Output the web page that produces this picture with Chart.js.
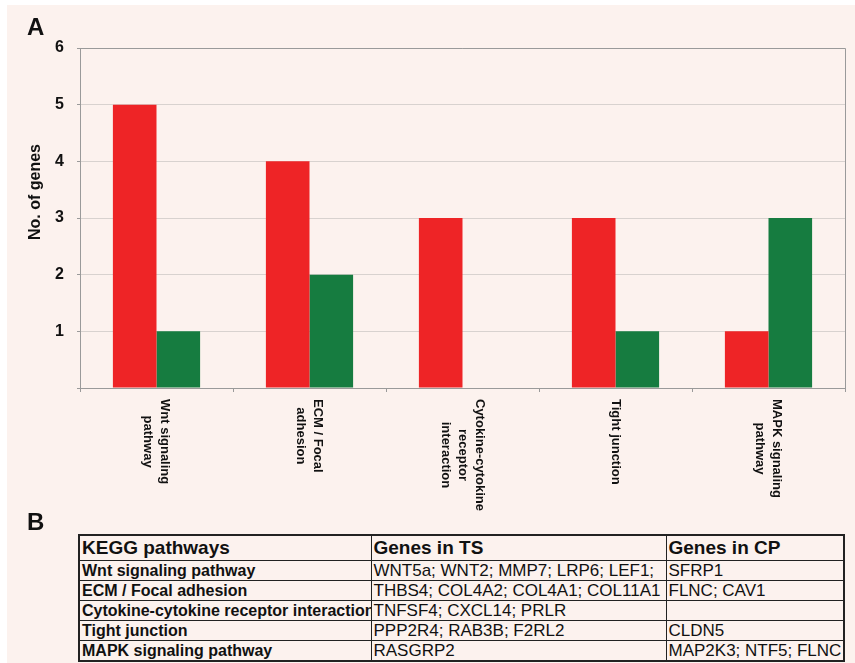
<!DOCTYPE html>
<html>
<head>
<meta charset="utf-8">
<script src="https://cdn.jsdelivr.net/npm/chart.js@4.4.0/dist/chart.umd.min.js"></script>
<style>
  html, body { margin: 0; padding: 0; background: #fff; }
  body { width: 855px; height: 663px; position: relative; overflow: hidden; font-family: "Liberation Sans", Arial, sans-serif; color: #111; }
  #panel { position: absolute; left: 7px; top: 5px; right: 0; bottom: 0; background: #fcf2ee; }
  #chart { position: absolute; left: 0; top: 0; }
  .tag { position: absolute; font-weight: bold; font-size: 24px; line-height: 24px; }
  table { position: absolute; left: 78px; top: 534px; width: 765px; border-collapse: collapse; table-layout: fixed; border: 2px solid #222; }
  td { border: 1px solid #222; padding: 0 2px; white-space: nowrap; overflow: hidden; height: 19px; line-height: 19px; font-size: 17px; }
  td.name { font-weight: bold; font-size: 16px; }
  tr.head td { font-weight: bold; font-size: 19px; height: 24px; line-height: 24px; }
</style>
</head>
<body>
<div id="panel"></div>
<canvas id="chart" width="855" height="530"></canvas>
<div class="tag" style="left:27px; top:15px;">A</div>
<div class="tag" style="left:27px; top:510px;">B</div>
<table id="genes">
  <colgroup><col style="width:292px"><col style="width:295px"><col style="width:178px"></colgroup>
  <tbody></tbody>
</table>
<script>
// Chart data
const pathways = ['Wnt signaling pathway', 'ECM / Focal adhesion', 'Cytokine-cytokine receptor interaction', 'Tight junction', 'MAPK signaling pathway'];
const pathwayLabelLines = [
    ['Wnt signaling', 'pathway'],
    ['ECM / Focal', 'adhesion'],
    ['Cytokine-cytokine', 'receptor', 'interaction'],
    ['Tight junction'],
    ['MAPK signaling', 'pathway']
];
const genesTS = [5, 4, 3, 3, 1];
const genesCP = [1, 2, 0, 1, 3];
const yTicks = [0, 1, 2, 3, 4, 5, 6];

// Table data
const tableHeader = ['KEGG pathways', 'Genes in TS', 'Genes in CP'];
const tsGeneLists = ['WNT5a; WNT2; MMP7; LRP6; LEF1;', 'THBS4; COL4A2; COL4A1; COL11A1', 'TNFSF4; CXCL14; PRLR', 'PPP2R4; RAB3B; F2RL2', 'RASGRP2'];
const cpGeneLists = ['SFRP1', 'FLNC; CAV1', '', 'CLDN5', 'MAP2K3; NTF5; FLNC'];

const FONT = '"Liberation Sans", Arial, sans-serif';

// draws rotated category labels, the y title and the frame
const extrasPlugin = {
    id: 'extras',
    afterDraw(chart) {
        const ctx = chart.ctx;
        const area = chart.chartArea;
        const xScale = chart.scales.x;

        ctx.save();
        ctx.strokeStyle = '#9a9a9a';
        ctx.lineWidth = 1;
        ctx.beginPath();
        ctx.moveTo(area.left, area.top + 0.5);
        ctx.lineTo(area.right + 0.5, area.top + 0.5);
        ctx.lineTo(area.right + 0.5, area.bottom);
        ctx.stroke();
        ctx.restore();

        ctx.save();
        ctx.fillStyle = '#111';
        ctx.font = 'bold 13px ' + FONT;
        ctx.textAlign = 'center';
        ctx.textBaseline = 'middle';
        const lineH = 17;
        pathwayLabelLines.forEach((lines, i) => {
            const cx = xScale.getPixelForValue(i);
            const maxW = Math.max(...lines.map(l => ctx.measureText(l).width));
            ctx.save();
            ctx.translate(cx, area.bottom + 11);
            ctx.rotate(Math.PI / 2);
            lines.forEach((line, k) => {
                ctx.fillText(line, maxW / 2, (k - (lines.length - 1) / 2) * lineH);
            });
            ctx.restore();
        });
        ctx.restore();

        ctx.save();
        ctx.fillStyle = '#111';
        ctx.font = 'bold 16px ' + FONT;
        ctx.textAlign = 'center';
        ctx.textBaseline = 'alphabetic';
        ctx.translate(40, 192);
        ctx.rotate(-Math.PI / 2);
        ctx.fillText('No. of genes', 0, 0);
        ctx.restore();
    }
};

new Chart(document.getElementById('chart'), {
    type: 'bar',
    data: {
        labels: pathways,
        datasets: [
            { label: 'TS', data: genesTS, backgroundColor: '#ee2426', borderWidth: 0 },
            { label: 'CP', data: genesCP, backgroundColor: '#167c40', borderWidth: 0 }
        ]
    },
    options: {
        responsive: false,
        animation: false,
        categoryPercentage: 0.57,
        barPercentage: 1.0,
        layout: { padding: { top: 48, right: 10, left: 0, bottom: 0 } },
        plugins: {
            legend: { display: false },
            tooltip: { enabled: false }
        },
        scales: {
            x: {
                grid: { drawOnChartArea: false, drawTicks: true, tickLength: 4, color: '#9a9a9a', offset: true },
                border: { color: '#9a9a9a' },
                ticks: { display: false },
                afterFit(scale) { scale.height = 142; }
            },
            y: {
                min: yTicks[0],
                max: yTicks[yTicks.length - 1],
                afterBuildTicks(scale) { scale.ticks = yTicks.map(v => ({ value: v })); },
                grid: {
                    color: '#d8d2cf',
                    tickColor: '#9a9a9a',
                    tickLength: 3
                },
                border: { color: '#9a9a9a' },
                ticks: {
                    padding: 13,
                    color: '#111',
                    font: { family: FONT, size: 16, weight: 'bold' },
                    callback: v => (v === 0 ? '' : v)
                },
                afterFit(scale) { scale.width = 80; }
            }
        }
    },
    plugins: [extrasPlugin]
});

// build the table from the arrays
const tbody = document.querySelector('#genes tbody');
const headRow = document.createElement('tr');
headRow.className = 'head';
tableHeader.forEach(h => {
    const td = document.createElement('td');
    td.textContent = h;
    headRow.appendChild(td);
});
tbody.appendChild(headRow);
pathways.forEach((p, i) => {
    const tr = document.createElement('tr');
    [p, tsGeneLists[i], cpGeneLists[i]].forEach((txt, k) => {
        const td = document.createElement('td');
        td.textContent = txt;
        if (k === 0) td.className = 'name';
        tr.appendChild(td);
    });
    tbody.appendChild(tr);
});
</script>
</body>
</html>
